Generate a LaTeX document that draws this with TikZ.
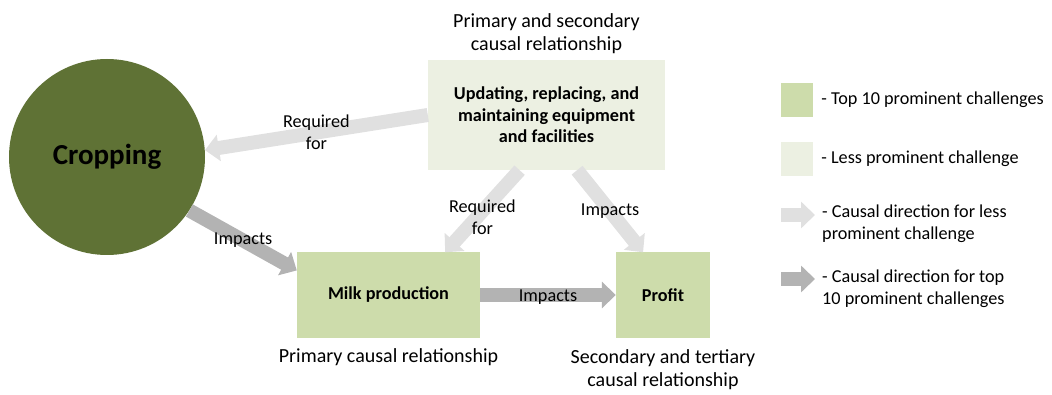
\documentclass[tikz,border=0pt]{standalone}
\usepackage{fontspec}
\setmainfont{Carlito}
\usepackage{tikz}
\usetikzlibrary{arrows.meta, shapes, positioning}

\definecolor{olivedk}{HTML}{5F7235}
\definecolor{greenmd}{HTML}{CDDCAB}
\definecolor{greenlt}{HTML}{ECF0E2}
\definecolor{graylt}{HTML}{E0E0E0}
\definecolor{graydk}{HTML}{B3B3B3}

\begin{document}
\begin{tikzpicture}[x=1pt,y=-1pt,font=\fontsize{18.2}{22}\selectfont,node distance=8pt,line cap=butt]

	\tikzset{box st/.style={rectangle, draw=none,
			fill=greenmd,
			font=\fontsize{18.2}{21.5}\selectfont\bfseries, align=center},
		less st/.style={box st, fill=greenlt},
		lab st/.style={align=center, inner sep=2pt, text=black},
		cap st/.style={lab st, font=\fontsize{20}{22.5}\selectfont},
		arr lt/.style={draw=graylt, line width=14pt,
			-{Triangle[width=26pt,length=14pt]}},
		arr dk/.style={arr lt, draw=graydk}}

	\useasboundingbox (0,0) rectangle (1052,395);

	\node[circle, fill=olivedk, minimum size=196pt, inner sep=0pt,
	font=\fontsize{29}{34}\selectfont\bfseries] (C) at (107,157) {Cropping};
	\node[less st, minimum width=237pt, minimum height=110pt] (U) at (546.5,115)
	{Updating, replacing, and\\maintaining equipment\\and facilities};
	\node[box st, minimum width=183pt, minimum height=85pt] (M) at (388.5,295) {Milk production};
	\node[box st, minimum width=94pt, minimum height=85pt] (P) at (663,295) {Profit};

	\node[cap st, above=4pt of U] (TU) {Primary and secondary\\causal relationship};
	\node[cap st, below=9pt of M] (TM) {Primary causal relationship};
	\node[cap st, below=10pt of P] (TP) {Secondary and tertiary\\causal relationship};

	\draw
	(U.west) edge[arr lt] node[lab st]{Required\\for} (C.4)
	(C.-33) edge[arr dk] node[lab st]{Impacts} (M.165)
	(U.244) edge[arr lt] node[lab st, yshift=-6pt]{Required\\for} (M.37)
	(U.-61) edge[arr lt] node[lab st]{Impacts} (P.115)
	(M.east) edge[arr dk] node[lab st, yshift=-2pt]{Impacts} (P.west);

	\node[box st, minimum width=32pt, minimum height=34pt] (L1) at (797,100) {};
	\node[less st, minimum width=32pt, minimum height=34pt] (L2) at (797,159) {};
	\coordinate (A3) at (781,215);
	\coordinate (B3) at (815,215);
	\coordinate (A4) at (781,279);
	\coordinate (B4) at (815,279);
	\draw[arr lt] (A3) -- (B3);
	\draw[arr dk] (A4) -- (B4);

	\node[lab st, right=6pt of L1] (T1) {- Top 10 prominent challenges};
	\node[lab st, right=6pt of L2] (T2) {- Less prominent challenge};
	\node[lab st, align=left, anchor=west] (T3) at (820,224)
	{- Causal direction for less\\prominent challenge};
	\node[lab st, align=left, anchor=west] (T4) at (820,289)
	{- Causal direction for top\\10 prominent challenges};

\end{tikzpicture}
\end{document}
